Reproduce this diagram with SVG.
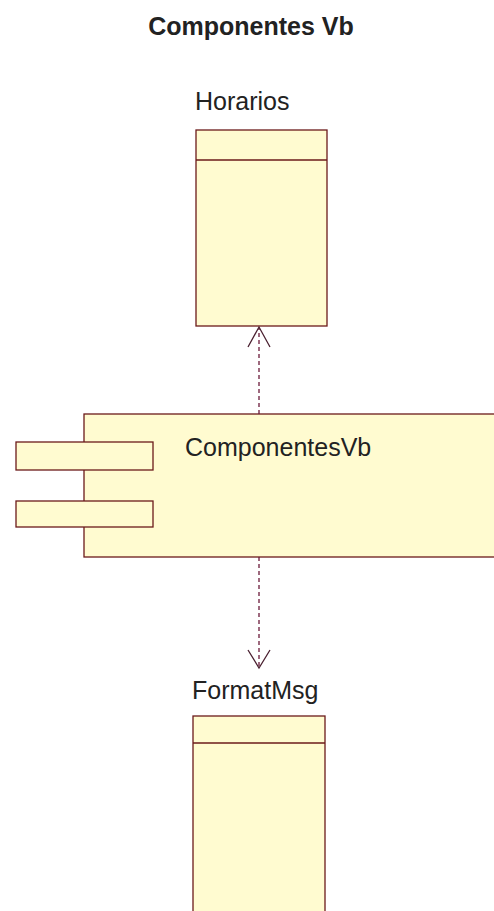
<svg xmlns="http://www.w3.org/2000/svg" width="494" height="911" viewBox="0 0 494 911">
<style>
.box{fill:#fffbd0;stroke:#6b1a1a;stroke-width:1.3}
.lbl{font-family:"Liberation Sans",Arial,sans-serif;font-size:25px;fill:#222}
.title{font-family:"Liberation Sans",Arial,sans-serif;font-size:25px;font-weight:bold;fill:#222}
.dep{fill:none;stroke:#6b1a3a;stroke-width:1.3;stroke-dasharray:4,3}
.head{fill:none;stroke:#4a2030;stroke-width:1.3}
</style>
<rect width="494" height="911" fill="#ffffff"/>
<text class="title" x="251" y="35" text-anchor="middle">Componentes Vb</text>
<g id="Horarios">
<rect class="box" x="196" y="130" width="131" height="196"/>
<line class="box" x1="196" y1="160" x2="327" y2="160"/>
<text class="lbl" x="195" y="110">Horarios</text>
</g>
<g id="ComponentesVb">
<rect class="box" x="84" y="414" width="420" height="143"/>
<rect class="box" x="16" y="442" width="137" height="28"/>
<rect class="box" x="16" y="501" width="137" height="26"/>
<text class="lbl" x="185" y="456">ComponentesVb</text>
</g>
<g id="FormatMsg">
<rect class="box" x="193" y="716" width="132" height="200"/>
<line class="box" x1="193" y1="743" x2="325" y2="743"/>
<text class="lbl" x="192" y="699">FormatMsg</text>
</g>
<g id="connectors">
<line class="dep" x1="259" y1="414" x2="259" y2="328"/>
<polyline class="head" points="248,347 259,327 270,347"/>
<line class="dep" x1="259" y1="557" x2="259" y2="666"/>
<polyline class="head" points="248,650 259,668 270,650"/>
</g>
</svg>
